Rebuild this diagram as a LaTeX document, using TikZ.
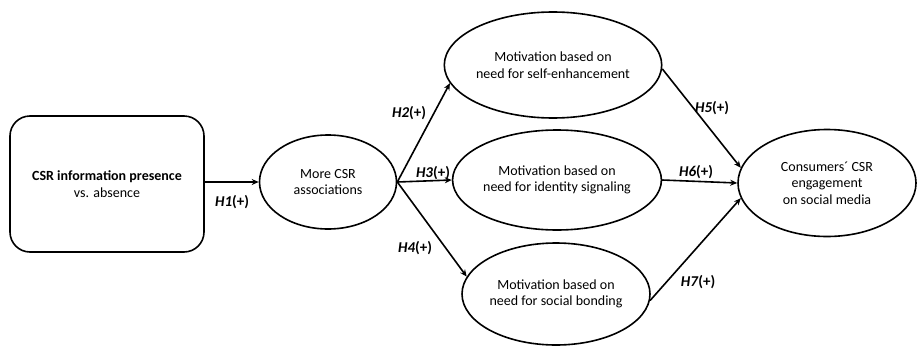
\documentclass[tikz,border=0pt]{standalone}
\usepackage{fontspec}
\setmainfont{Carlito}
\usepackage{tikz}
\usetikzlibrary{shapes.geometric, arrows.meta}
\tikzset{
every picture/.style={line width=1.6pt, >={Stealth[length=7pt,width=6pt]}},
%%%%%%%%%%  Node styles
construct/.style={ellipse, draw, inner sep=0pt, align=center,
                  font=\fontsize{14}{16.5}\selectfont},
startbox/.style={rectangle, rounded corners=20pt, draw, align=center,
                 minimum width=194pt, minimum height=136pt,
                 font=\fontsize{14}{16.5}\selectfont},
%%%%%%% hypothesis labels
hyp/.style={inner sep=1pt, font=\fontsize{15}{17}\selectfont\bfseries},
}
\begin{document}
\begin{tikzpicture}[x=1pt,y=-1pt]
\useasboundingbox (0,0) rectangle (917,348);
%%boxes and ellipses
\node[startbox] (info) at (107,184) {\textbf{CSR information presence}\\vs. absence};
\node[construct, minimum width=137pt, minimum height=94pt] (assoc) at (328,182) {More CSR\\associations};
\node[construct, minimum width=190pt, minimum height=106pt] (self) at (553,65) {Motivation based on\\need for self-enhancement};
\node[construct, minimum width=190pt, minimum height=100pt] (ident) at (557,180) {Motivation based on\\need for identity signaling};
\node[construct, minimum width=188pt, minimum height=102pt] (social) at (556,294) {Motivation based on\\need for social bonding};
\node[construct, minimum width=178pt, minimum height=107pt] (engage) at (827,183) {Consumers\textasciiacute\ CSR\\engagement\\on social media};
%%arrows
\draw[->] (info.east |- assoc.west) -- (assoc.west);
\draw[->] (assoc.east) -- (self.190);
\draw[->] (assoc.east) -- (ident.west);
\draw[->] (assoc.east) -- (social.169);
\draw[->] (self.-2) -- (engage.170);
\draw[->] (ident.east) -- (engage.west);
\draw[->] (social.-4) -- (engage.190);
%%hypothesis labels
\node[hyp] (h1) at (232,202) {\textit{H1}(+)};
\node[hyp] (h2) at (409,113) {\textit{H2}(+)};
\node[hyp] (h3) at (433,173) {\textit{H3}(+)};
\node[hyp] (h4) at (415,248) {\textit{H4}(+)};
\node[hyp] (h5) at (712,108) {\textit{H5}(+)};
\node[hyp] (h6) at (696,172) {\textit{H6}(+)};
\node[hyp] (h7) at (698,282) {\textit{H7}(+)};
\end{tikzpicture}
\end{document}
